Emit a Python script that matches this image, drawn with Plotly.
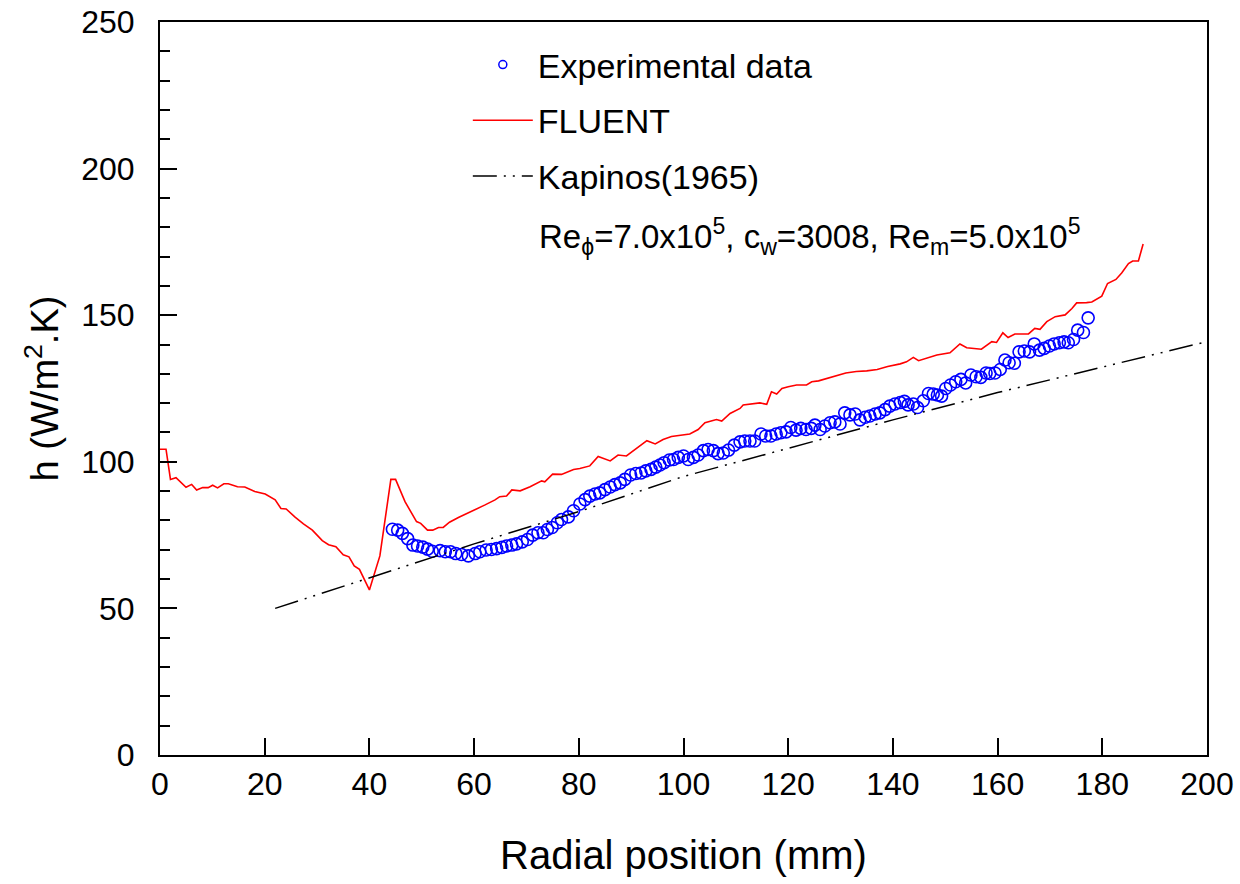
import plotly.graph_objects as go

# ---------------- data ----------------
exp_r = [44.4, 45.4, 46.3, 47.3, 48.3, 49.2, 50.2, 51.1, 52.0, 53.5, 54.5, 55.5, 56.5, 57.6, 58.9,
         60.2, 61.1, 62.3, 63.3, 64.3, 65.3, 66.2, 67.2, 68.1, 69.2, 70.2, 71.2, 72.2, 73.2, 74.0,
         74.9, 75.9, 76.7, 78.0, 79.0, 80.2, 81.2, 82.1, 83.1, 84.0, 85.0, 86.0, 86.9, 87.9, 88.8,
         89.9, 90.9, 91.9, 92.8, 93.8, 94.7, 95.5, 96.3, 97.3, 98.1, 99.0, 100.0, 100.9, 101.9, 102.8,
         103.8, 104.7, 105.7, 106.6, 107.6, 108.6, 109.7, 110.8, 111.7, 112.7, 113.6, 114.8, 115.7,
         116.7, 117.7, 118.6, 119.6, 120.5, 121.5, 122.4, 123.4, 124.4, 125.1, 126.1, 127.0, 128.0,
         128.9, 129.9, 130.8, 131.8, 132.8, 133.7, 134.7, 135.6, 136.6, 137.5, 138.5, 139.4, 140.4,
         141.4, 142.2, 142.9, 143.9, 144.7, 145.8, 146.8, 147.7, 148.5, 149.3, 150.1, 151.0, 152.0,
         153.0, 153.9, 154.9, 155.9, 156.8, 157.8, 158.5, 159.5, 160.5, 161.4, 162.2, 163.2, 164.1,
         165.1, 166.1, 167.0, 168.0, 168.9, 169.9, 170.8, 171.8, 172.7, 173.5, 174.5, 175.3, 176.4, 177.3]
exp_h = [77.0, 76.7, 75.6, 73.8, 71.6, 71.3, 70.9, 70.2, 69.5, 69.7, 69.3, 69.3, 68.7, 68.4, 67.9,
         68.7, 69.3, 69.9, 70.1, 70.4, 70.8, 71.3, 71.6, 72.0, 72.7, 73.5, 75.0, 75.8, 75.8, 76.9,
         77.6, 79.2, 80.3, 81.2, 83.3, 85.6, 87.1, 88.3, 89.0, 89.4, 90.5, 91.4, 92.2, 92.8, 94.0,
         95.5, 96.0, 96.2, 96.9, 97.4, 98.2, 98.9, 99.7, 100.6, 100.8, 101.5, 102.0, 100.8, 101.5, 102.3,
         103.8, 104.2, 103.8, 102.8, 103.0, 104.0, 105.7, 106.8, 107.1, 107.1, 107.1, 109.5, 108.8,
         108.8, 109.5, 109.9, 110.2, 111.7, 110.8, 111.4, 111.0, 111.4, 112.5, 111.0, 112.2, 113.3,
         113.6, 112.9, 116.7, 116.0, 116.3, 114.3, 115.2, 115.6, 116.3, 116.7, 117.8, 119.0, 119.7,
         120.2, 120.6, 119.4, 119.7, 118.5, 120.8, 123.3, 123.1, 122.8, 122.4, 125.0, 126.2, 127.3,
         128.1, 126.9, 129.6, 129.0, 128.8, 130.3, 130.1, 130.3, 131.5, 134.7, 133.8, 133.6, 137.5,
         137.8, 137.5, 140.2, 138.1, 138.7, 139.5, 140.2, 140.6, 140.9, 140.6, 141.7, 144.9, 144.1, 149.1]

fluent_r = [0.0, 1.15, 2.0, 3.06, 4.97, 6.05, 7.0, 8.15, 9.2, 10.06, 11.0, 12.2, 13.05, 14.8, 16.2,
            18.1, 20.1, 22.0, 23.1, 24.1, 25.8, 27.4, 29.1, 31.0, 32.2, 33.6, 35.0, 36.1, 37.1, 38.1,
            40.0, 42.0, 44.1, 45.0, 46.8, 49.0, 49.8, 51.1, 52.1, 53.2, 54.1, 55.3, 57.0, 59.9, 62.1,
            64.0, 64.9, 66.2, 67.2, 68.8, 70.7, 72.9, 73.5, 75.0, 76.7, 79.0, 80.2, 82.1, 83.7, 86.0,
            87.5, 89.1, 91.4, 93.0, 94.6, 96.1, 97.7, 100.0, 101.2, 102.8, 104.1, 106.3, 107.3, 108.9,
            110.8, 111.4, 113.3, 114.6, 115.9, 116.8, 117.8, 118.8, 120.0, 121.6, 123.5, 124.5, 125.8,
            127.5, 129.5, 131.0, 133.0, 135.0, 137.0, 139.0, 141.4, 142.6, 143.9, 144.9, 148.4, 150.9,
            152.8, 154.1, 156.9, 158.9, 159.8, 161.0, 162.0, 163.3, 165.9, 167.1, 168.1, 169.4, 171.0,
            172.9, 174.2, 175.1, 177.0, 178.0, 179.9, 181.0, 182.6, 183.7, 185.0, 185.8, 186.9, 187.8]
fluent_h = [104.3, 104.3, 94.0, 94.6, 91.3, 92.3, 90.4, 91.2, 91.2, 92.0, 91.1, 92.5, 92.5, 91.5, 91.4,
            89.9, 89.0, 87.0, 84.1, 83.9, 81.1, 78.8, 76.7, 73.1, 71.7, 71.0, 68.3, 67.6, 64.5, 63.3,
            56.3, 67.9, 94.0, 94.0, 86.4, 79.6, 79.0, 76.7, 76.7, 77.6, 77.6, 79.4, 81.0, 83.3, 85.3,
            87.0, 88.1, 88.3, 90.4, 90.1, 91.5, 93.5, 93.2, 95.8, 95.7, 97.4, 97.7, 98.6, 101.8, 100.3,
            102.3, 102.0, 104.9, 107.2, 106.1, 107.6, 108.6, 109.1, 109.5, 111.0, 113.3, 114.4, 113.9, 116.5,
            118.2, 119.4, 119.9, 120.1, 119.6, 123.9, 123.1, 125.0, 125.6, 126.2, 126.2, 127.3, 127.6,
            128.5, 129.5, 130.3, 130.8, 131.0, 131.5, 132.5, 133.4, 134.1, 135.6, 134.5, 136.4, 137.2,
            140.2, 138.9, 138.4, 141.0, 140.7, 144.0, 142.4, 143.6, 143.6, 145.5, 145.2, 147.8, 149.5,
            150.1, 152.3, 154.2, 154.3, 154.5, 156.5, 160.8, 162.2, 164.4, 167.6, 168.5, 168.5, 174.3]

kapinos_r = [22, 40, 60, 80, 100, 120, 140, 160, 180, 200]
kapinos_h = [50.0, 60.5, 72.0, 83.0, 95.0, 104.6, 114.3, 123.6, 132.4, 141.0]

x_ticks = [0, 20, 40, 60, 80, 100, 120, 140, 160, 180, 200]
y_ticks = [0, 50, 100, 150, 200, 250]

FONT = "Liberation Sans, Arial, sans-serif"

fig = go.Figure()

# experimental data (plotted), with a small legend-only marker entry
fig.add_trace(go.Scatter(
    x=exp_r, y=exp_h, mode="markers", showlegend=False,
    marker=dict(symbol="circle-open", size=12, color="#0000ff", line=dict(width=1.6, color="#0000ff")),
))
fig.add_trace(go.Scatter(
    x=[None], y=[None], mode="markers", name="Experimental data", legendgroup="a",
    marker=dict(symbol="circle-open", size=8, color="#0000ff", line=dict(width=1.5, color="#0000ff")),
))
fig.add_trace(go.Scatter(
    x=fluent_r, y=fluent_h, mode="lines", name="FLUENT", legendgroup="b",
    line=dict(color="#ff0000", width=1.6),
))
fig.add_trace(go.Scatter(
    x=kapinos_r, y=kapinos_h, mode="lines", name="Kapinos(1965)", legendgroup="c",
    line=dict(color="#000000", width=1.5, dash="24px,7px,2px,7px,2px,7px"),
))

fig.add_annotation(
    xref="paper", yref="paper", x=0.36, y=0.708, xanchor="left", yanchor="middle",
    text="Re<sub>\u03d5</sub>=7.0x10<sup>5</sup>, c<sub>w</sub>=3008, Re<sub>m</sub>=5.0x10<sup>5</sup>",
    showarrow=False, font=dict(family=FONT, size=33, color="#000000"),
)

fig.update_layout(
    width=1240, height=884,
    margin=dict(l=160, r=33, t=22, b=129, autoexpand=False),
    paper_bgcolor="white", plot_bgcolor="white",
    font=dict(family=FONT, color="#000000"),
    showlegend=True,
    legend=dict(
        x=0.294, y=0.981, xanchor="left", yanchor="top",
        font=dict(family=FONT, size=34, color="#000000"),
        bgcolor="rgba(0,0,0,0)", traceorder="grouped", tracegroupgap=8.5,
        itemwidth=60,
    ),
    xaxis=dict(
        range=[0, 200], tickvals=x_ticks, ticktext=[str(v) for v in x_ticks],
        showgrid=False, zeroline=False, automargin=False,
        showline=True, linecolor="#000000", linewidth=2, mirror=True,
        ticks="inside", ticklen=17, tickwidth=1.5, tickcolor="#000000",
        tickfont=dict(family=FONT, size=32, color="#000000"),
        ticklabelstandoff=0,
        title=dict(text="Radial position (mm)", font=dict(family=FONT, size=40, color="#000000"), standoff=40),
    ),
    yaxis=dict(
        range=[0, 250], tickvals=y_ticks, ticktext=[str(v) for v in y_ticks],
        showgrid=False, zeroline=False, automargin=False,
        showline=True, linecolor="#000000", linewidth=2, mirror=True,
        ticks="inside", ticklen=17, tickwidth=1.5, tickcolor="#000000",
        minor=dict(dtick=10, ticks="inside", ticklen=10, tickwidth=1.5, tickcolor="#000000", showgrid=False),
        tickfont=dict(family=FONT, size=32, color="#000000"),
        ticklabelstandoff=17,
        title=dict(text="h (W/m<sup>2</sup>.K)", font=dict(family=FONT, size=38, color="#000000"), standoff=11),
    ),
)

fig.write_html("out.html")
